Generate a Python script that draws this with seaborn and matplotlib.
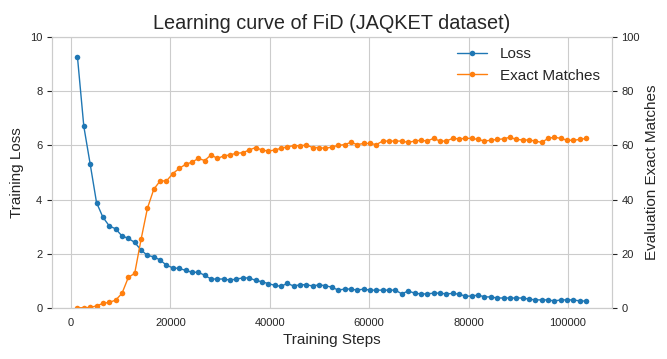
import numpy as np
import pandas as pd
import matplotlib
matplotlib.use("Agg")
import matplotlib.pyplot as plt
import seaborn as sns

sns.set_style("whitegrid")
plt.rcParams['font.family'] = ['Liberation Sans', 'DejaVu Sans']

# evaluation every 1280 training steps
steps = list(range(1280, 103681, 1280))

loss = [9.26, 6.70, 5.31, 3.89, 3.35, 3.03, 2.92, 2.66, 2.57, 2.42,
        2.14, 1.94, 1.89, 1.77, 1.58, 1.48, 1.46, 1.39, 1.32, 1.32,
        1.21, 1.07, 1.07, 1.07, 1.03, 1.07, 1.11, 1.11, 1.02, 0.97,
        0.90, 0.84, 0.80, 0.91, 0.81, 0.86, 0.86, 0.81, 0.86, 0.82,
        0.77, 0.66, 0.70, 0.70, 0.66, 0.70, 0.66, 0.66, 0.66, 0.66,
        0.66, 0.52, 0.63, 0.55, 0.52, 0.52, 0.55, 0.55, 0.52, 0.54,
        0.51, 0.44, 0.44, 0.48, 0.41, 0.41, 0.37, 0.37, 0.37, 0.37,
        0.37, 0.33, 0.30, 0.30, 0.30, 0.26, 0.30, 0.30, 0.30, 0.26,
        0.26]

em = [0.1, 0.1, 0.2, 0.8, 1.7, 2.1, 2.9, 5.4, 11.3, 12.8,
      25.3, 36.8, 43.8, 46.9, 46.9, 49.6, 51.5, 53.0, 53.8, 55.2,
      54.4, 56.5, 55.2, 56.1, 56.5, 57.1, 57.3, 58.3, 59.2, 58.3,
      57.9, 58.3, 58.9, 59.5, 59.9, 59.9, 60.1, 59.2, 59.2, 58.9,
      59.4, 60.0, 60.3, 61.1, 60.3, 60.7, 60.7, 60.3, 61.6, 61.6,
      61.6, 61.6, 61.1, 61.6, 61.9, 61.6, 62.6, 61.6, 61.6, 62.6,
      62.4, 62.6, 62.6, 62.2, 61.6, 61.9, 62.2, 62.4, 63.0, 62.2,
      62.0, 62.0, 61.6, 61.1, 62.6, 63.0, 62.6, 61.9, 61.9, 62.2,
      62.6]

df = pd.DataFrame({"step": steps, "loss": loss, "em": em})

fig, ax1 = plt.subplots(figsize=(6.67, 3.59), dpi=100)
fig.subplots_adjust(left=0.078, right=0.917, top=0.897, bottom=0.142)
ax2 = ax1.twinx()

sns.lineplot(data=df, x="step", y="loss", ax=ax1, color="#1f77b4",
             marker="o", markersize=4, markeredgewidth=0, linewidth=1,
             label="Loss", legend=False)
sns.lineplot(data=df, x="step", y="em", ax=ax2, color="#ff7f0e",
             marker="o", markersize=4, markeredgewidth=0, linewidth=1,
             label="Exact Matches", legend=False)

ax1.set_ylim(0, 10)
ax2.set_ylim(0, 100)
ax1.set_yticks([0, 2, 4, 6, 8, 10])
ax2.set_yticks([0, 20, 40, 60, 80, 100])
ax2.grid(False)
ax1.tick_params(labelsize=8)
ax2.tick_params(labelsize=8)

ax1.set_xlabel("Training Steps", fontsize=11)
ax1.set_ylabel("Training Loss", fontsize=11)
ax2.set_ylabel("Evaluation Exact Matches", fontsize=11)
ax1.set_title("Learning curve of FiD (JAQKET dataset)", fontsize=14.3)

h1, l1 = ax1.get_legend_handles_labels()
h2, l2 = ax2.get_legend_handles_labels()
ax2.legend(h1 + h2, l1 + l2, loc="upper right", fontsize=11, frameon=False,
           bbox_to_anchor=(1.003, 1.013))

fig.savefig("out.png", dpi=100)
